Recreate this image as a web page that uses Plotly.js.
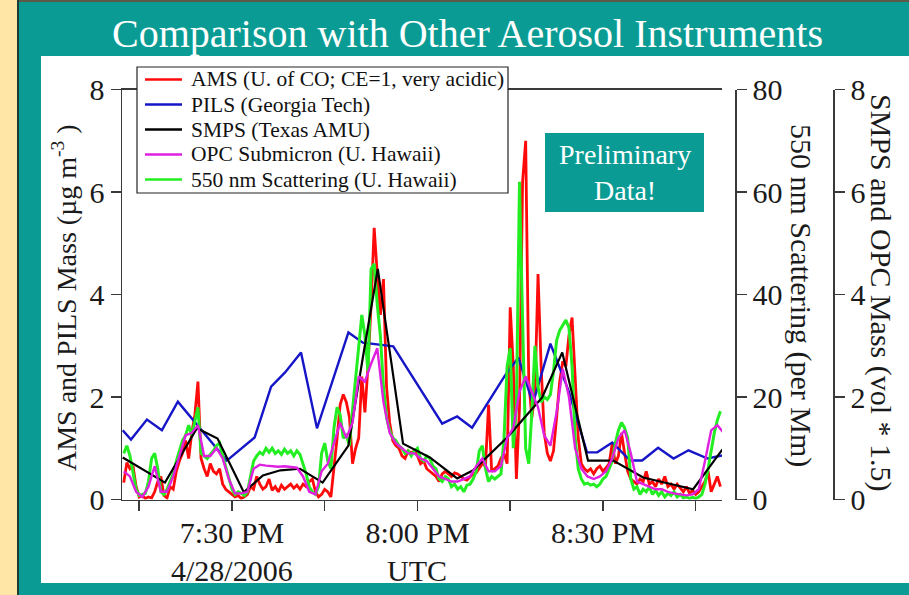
<!DOCTYPE html>
<html>
<head>
<meta charset="utf-8">
<script src="https://cdn.plot.ly/plotly-3.0.1.min.js"></script>
<style>
  html, body { margin: 0; padding: 0; background: #0A9C94; }
  #chart { width: 909px; height: 595px; }
</style>
</head>
<body>
<div id="chart"></div>
<script>
// Flight date; all instrument clocks in UTC
const flightDate = '2006-04-28';

// AMS and 550 nm scattering: 30 s records starting 19:12:30 UTC
const fastStart = '19:12:30';
const fastStepSec = 30;

// AMS mass (ug m-3), U. of CO, CE=1
const amsMass = [
  0.33, 0.72, 0.60, 0.65, 0.25, 0.05, 0.08, 0.02, 0.05, 0.03,
  0.15, 0.35, 0.45, 0.08, 0.03, 0.25, 0.20, 0.55, 0.75, 0.90,
  1.15, 0.80, 1.30, 1.65, 2.30, 0.80, 0.60, 0.45, 0.70, 0.55,
  0.50, 0.60, 0.30, 0.20, 0.15, 0.10, 0.05, 0.08, 0.02, 0.05,
  0.10, 0.25, 0.20, 0.45, 0.30, 0.20, 0.25, 0.40, 0.18, 0.25,
  0.15, 0.28, 0.20, 0.25, 0.30, 0.22, 0.28, 0.20, 0.30, 0.25,
  0.35, 0.40, 0.15, 0.05, 0.10, 0.20, 0.15, 0.05, 0.60, 1.20,
  1.85, 2.05, 1.90, 1.60, 0.70, 1.00, 1.20, 2.40, 1.70, 2.60,
  3.80, 5.30, 4.40, 3.60, 4.30, 2.20, 1.50, 1.15, 1.05, 1.00,
  0.85, 0.80, 0.95, 0.90, 0.95, 0.85, 0.70, 0.75, 0.60, 0.55,
  0.50, 0.45, 0.35, 0.50, 0.55, 0.50, 0.45, 0.52, 0.50, 0.45,
  0.40, 0.38, 0.45, 0.50, 0.52, 0.60, 0.70, 0.65, 1.85, 0.55,
  0.60, 0.65, 0.80, 0.90, 0.70, 3.75, 2.60, 0.40, 1.80, 6.20,
  7.00, 2.30, 1.60, 2.10, 4.40, 2.60, 1.30, 0.90, 0.75, 0.95,
  1.60, 2.30, 2.70, 2.60, 3.20, 3.55, 2.40, 1.20, 0.70, 0.60,
  0.55, 0.60, 0.50, 0.60, 0.65, 0.55, 0.62, 0.70, 1.10, 0.70,
  0.85, 1.30, 0.90, 0.55, 0.40, 0.35, 0.30, 0.40, 0.35, 0.55,
  0.30, 0.35, 0.25, 0.40, 0.30, 0.45, 0.25, 0.30, 0.20, 0.30,
  0.22, 0.15, 0.25, 0.12, 0.18, 0.10, 0.15, 0.25, 0.35, 0.55,
  0.15, 0.30, 0.45, 0.25
];

// 550 nm scattering (per Mm), U. Hawaii
const scattering = [
  9.0, 10.5, 8.5, 5.5, 2.0, 0.8, 1.0, 1.2, 3.5, 8.0,
  9.0, 6.0, 1.5, 1.0, 2.0, 3.5, 5.0, 7.5, 9.5, 11.5,
  12.5, 14.5, 12.5, 15.5, 18.0, 9.0, 8.5, 8.0, 8.8, 9.5,
  10.5, 11.0, 8.5, 6.5, 4.5, 2.0, 1.0, 1.5, 1.2, 0.8,
  1.5, 4.5, 7.5, 8.5, 9.2, 8.8, 10.0, 9.2, 10.0, 9.0,
  9.5, 8.8, 9.8, 9.0, 9.5, 8.5, 9.5, 8.8, 7.0, 5.0,
  2.5, 1.5, 1.0, 2.5, 9.0, 11.0, 7.5, 6.0, 14.0, 18.0,
  16.5, 12.0, 12.5, 10.5, 17.5, 24.0, 31.0, 36.0, 32.0, 25.0,
  45.0, 46.0, 38.0, 32.0, 22.0, 16.0, 13.5, 12.0, 11.5, 10.5,
  10.0, 9.0, 9.5, 8.5, 9.5, 10.0, 8.0, 7.5, 8.5, 8.0,
  6.5, 6.0, 4.0, 3.5, 4.5, 4.0, 2.5, 3.0, 2.0, 2.5,
  1.5, 2.8, 3.0, 4.0, 5.5, 9.5, 10.5, 6.0, 3.5, 4.5,
  4.0, 4.5, 5.0, 12.0, 26.0, 29.5, 10.0, 18.0, 62.0, 35.0,
  10.0, 7.0, 17.0, 30.0, 22.0, 19.0, 20.0, 19.5, 20.5, 25.0,
  31.0, 33.0, 34.0, 35.0, 33.5, 26.0, 12.0, 6.0, 4.0, 3.0,
  3.2, 2.8, 3.0, 2.5, 3.0, 4.0, 4.5, 6.0, 7.5, 11.0,
  13.5, 15.0, 14.0, 12.0, 4.0, 2.0, 2.5, 1.0, 2.0, 1.5,
  2.5, 1.0, 1.8, 0.8, 1.5, 0.5, 1.2, 0.8, 1.5, 0.5,
  1.0, 0.3, 0.5, 0.2, 0.4, 0.2, 0.5, 1.0, 3.0, 6.0,
  9.5, 13.0, 15.5, 17.2
];

// OPC submicron mass (vol * 1.5), 1 min records starting 19:12:30 UTC
const opcStart = '19:12:30';
const opcStepSec = 60;
const opcMass = [
  0.55, 0.45, 0.15, 0.05, 0.25, 0.65, 0.15, 0.15, 0.45, 0.85,
  1.25, 1.30, 1.45, 0.85, 0.85, 1.00, 0.80, 0.40, 0.12, 0.12,
  0.15, 0.60, 0.68, 0.66, 0.65, 0.64, 0.65, 0.63, 0.62, 0.45,
  0.15, 0.10, 0.55, 0.70, 1.10, 1.50, 1.20, 1.50, 2.40, 2.30,
  2.65, 2.95, 1.90, 1.30, 1.10, 1.00, 0.90, 0.90, 0.80, 0.75,
  0.60, 0.45, 0.40, 0.35, 0.35, 0.40, 0.45, 0.65, 0.80, 0.55,
  0.55, 0.65, 1.20, 1.40, 2.10, 2.40, 2.10, 1.80, 1.25, 1.05,
  1.70, 2.55, 2.00, 1.00, 0.60, 0.45, 0.40, 0.45, 0.55, 0.80,
  1.20, 1.35, 0.90, 0.35, 0.30, 0.25, 0.20, 0.20, 0.15, 0.12,
  0.10, 0.08, 0.10, 0.20, 0.75, 1.35, 1.45, 1.30
];

// PILS (Georgia Tech) sample times and mass (ug m-3)
const pilsTimes = [
  '19:12:20', '19:13:40', '19:16:15', '19:18:40', '19:21:15', '19:29:10',
  '19:33:40', '19:36:20', '19:38:35', '19:41:10', '19:43:45', '19:48:50',
  '19:51:10', '19:56:05', '20:04:00', '20:06:25', '20:08:50', '20:11:20',
  '20:14:10', '20:16:20', '20:18:40', '20:21:30', '20:24:25', '20:27:25',
  '20:29:05', '20:31:30', '20:34:25', '20:36:20', '20:38:55', '20:41:25',
  '20:43:50', '20:46:55', '20:49:15'
];
const pilsMass = [
  1.35, 1.17, 1.56, 1.35, 1.91, 0.76,
  1.21, 2.20, 2.48, 2.87, 1.39, 3.26,
  3.06, 2.99, 1.48, 1.62, 1.40, 1.89,
  2.42, 2.77, 1.87, 3.04, 2.13, 0.92,
  0.92, 1.11, 0.76, 0.76, 1.01, 0.80,
  0.96, 0.80, 0.86
];

// SMPS (Texas A&M) sample times and mass (vol * 1.5)
const smpsTimes = [
  '19:12:20', '19:19:10', '19:24:20', '19:27:40', '19:31:55', '19:35:00',
  '19:37:50', '19:41:00', '19:44:40', '19:48:50', '19:51:10', '19:53:35',
  '19:57:40', '20:02:00', '20:06:25', '20:09:00', '20:14:30', '20:20:10',
  '20:23:25', '20:27:35', '20:31:40', '20:36:30', '20:44:35', '20:49:20'
];
const smpsMass = [
  0.82, 0.33, 1.39, 1.19, 0.14, 0.47,
  0.57, 0.60, 0.33, 1.05, 2.77, 4.50,
  1.09, 0.82, 0.41, 0.57, 1.21, 1.99,
  2.87, 0.76, 0.76, 0.43, 0.20, 0.98
];

// Axis ticks
const xMajorTimes = ['19:30:00', '20:00:00', '20:30:00'];
const xMajorText = ['7:30 PM', '8:00 PM', '8:30 PM'];
const xSubTimes = ['19:30:00', '20:00:00'];
const xSubText = ['4/28/2006', 'UTC'];
const xMinorTimes = ['19:15:00', '19:45:00', '20:15:00', '20:45:00'];
const massTicks = [0, 2, 4, 6, 8];
const scatTicks = [0, 20, 40, 60, 80];

// ---- helpers ----
const stamp = t => flightDate + ' ' + t;
function regularTimes(start, stepSec, n) {
  const t0 = Date.parse(flightDate + 'T' + start + 'Z');
  const out = [];
  for (let i = 0; i < n; i++) {
    out.push(new Date(t0 + i * stepSec * 1000).toISOString().replace('T', ' ').slice(0, 19));
  }
  return out;
}

const W = 909, H = 595;
const px = x => x / W;          // horizontal pixel -> paper
const py = y => (H - y) / H;    // vertical pixel (from top) -> paper

const SERIF = 'Liberation Serif, Times New Roman, serif';
const AX = '#3a3a3a';
const INK = '#1a1a1a';

const fastTimes = regularTimes(fastStart, fastStepSec, amsMass.length);
const opcTimes = regularTimes(opcStart, opcStepSec, opcMass.length);

const traces = [
  { name: 'AMS (U. of CO; CE=1, very acidic)', x: fastTimes, y: amsMass,
    type: 'scatter', mode: 'lines', line: { color: '#ff0a0a', width: 2.8 }, yaxis: 'y' },
  { name: 'PILS (Georgia Tech)', x: pilsTimes.map(stamp), y: pilsMass,
    type: 'scatter', mode: 'lines', line: { color: '#1616c8', width: 2.4 }, yaxis: 'y' },
  { name: 'SMPS (Texas AMU)', x: smpsTimes.map(stamp), y: smpsMass,
    type: 'scatter', mode: 'lines', line: { color: '#000000', width: 2.2 }, yaxis: 'y3' },
  { name: 'OPC Submicron (U. Hawaii)', x: opcTimes, y: opcMass,
    type: 'scatter', mode: 'lines', line: { color: '#e020e0', width: 2.4 }, yaxis: 'y3' },
  { name: '550 nm Scattering (U. Hawaii)', x: fastTimes, y: scattering,
    type: 'scatter', mode: 'lines', line: { color: '#22ee22', width: 3 }, yaxis: 'y2' }
];

const yDomain = [py(499.5), py(89.5)];
const tickFont = { family: SERIF, size: 30, color: INK };
const xFont = { family: SERIF, size: 30, color: INK };
const commonY = {
  ticks: 'outside', ticklen: 10, tickwidth: 1.5, tickcolor: AX,
  showline: true, linecolor: AX, linewidth: 1.5,
  showgrid: false, zeroline: false, tickfont: tickFont, fixedrange: true
};

// Framed key in the upper left of the plot, one row per trace
const key = { left: 137, right: 508, top: 67, bottom: 193, row0: 79.5, rowStep: 25,
              lineX0: 145, lineX1: 182, textX: 189 };
const keyShapes = [
  { type: 'rect', xref: 'paper', yref: 'paper',
    x0: px(key.left), x1: px(key.right), y0: py(key.bottom), y1: py(key.top),
    fillcolor: '#ffffff', line: { color: '#222', width: 1.2 }, layer: 'above' }
];
const keyNotes = [];
traces.forEach((t, i) => {
  const yy = py(key.row0 + i * key.rowStep);
  keyShapes.push({ type: 'line', xref: 'paper', yref: 'paper',
    x0: px(key.lineX0), x1: px(key.lineX1), y0: yy, y1: yy,
    line: { color: t.line.color, width: 2.4 }, layer: 'above' });
  keyNotes.push({ text: t.name, xref: 'paper', yref: 'paper', x: px(key.textX), y: yy,
    xanchor: 'left', yanchor: 'middle', showarrow: false,
    font: { family: SERIF, size: 21.5, color: '#111' } });
});

// Second line under the time labels (date and time zone)
const subNotes = xSubTimes.map((t, i) => ({
  text: xSubText[i], xref: 'x', yref: 'paper', x: stamp(t), y: py(570),
  xanchor: 'center', yanchor: 'middle', showarrow: false, font: xFont
}));

const layout = {
  width: W, height: H,
  margin: { l: 0, r: 0, t: 0, b: 0 },
  paper_bgcolor: '#0A9C94',
  plot_bgcolor: 'rgba(0,0,0,0)',
  showlegend: false,
  xaxis: {
    type: 'date', domain: [px(122), px(722)],
    range: [stamp('19:12:13'), stamp('20:49:15')],
    tickmode: 'array', tickvals: xMajorTimes.map(stamp), ticktext: xMajorText,
    ticks: 'outside', ticklen: 10, tickwidth: 1.5, tickcolor: AX,
    ticklabelstandoff: -4,
    minor: { tickmode: 'array', tickvals: xMinorTimes.map(stamp),
             ticks: 'outside', ticklen: 10, tickwidth: 1.5, tickcolor: AX, showgrid: false },
    showline: true, linecolor: AX, linewidth: 1.5, mirror: true,
    showgrid: false, zeroline: false,
    tickfont: xFont, fixedrange: true
  },
  yaxis: Object.assign({}, commonY, {
    domain: yDomain, range: [0, 8], tickmode: 'array', tickvals: massTicks
  }),
  yaxis2: Object.assign({}, commonY, {
    overlaying: 'y', side: 'right', anchor: 'free', position: px(735),
    range: [0, 80], tickmode: 'array', tickvals: scatTicks
  }),
  yaxis3: Object.assign({}, commonY, {
    overlaying: 'y', side: 'right', anchor: 'free', position: px(833),
    range: [0, 8], tickmode: 'array', tickvals: massTicks
  }),
  shapes: [
    { type: 'rect', xref: 'paper', yref: 'paper', x0: 0, x1: px(17), y0: 0, y1: 1,
      fillcolor: '#FFE6A6', line: { width: 0 }, layer: 'below' },
    { type: 'rect', xref: 'paper', yref: 'paper', x0: px(17), x1: px(19), y0: 0, y1: 1,
      fillcolor: '#1d3d35', line: { width: 0 }, layer: 'below' },
    { type: 'rect', xref: 'paper', yref: 'paper', x0: px(19), x1: 1, y0: py(2), y1: 1,
      fillcolor: '#5c5a45', line: { width: 0 }, layer: 'below' },
    { type: 'rect', xref: 'paper', yref: 'paper', x0: px(41), x1: 1, y0: py(583), y1: py(56),
      fillcolor: '#ffffff', line: { width: 0 }, layer: 'below' },
    { type: 'rect', xref: 'paper', yref: 'paper', x0: px(545), x1: px(704), y0: py(212), y1: py(133),
      fillcolor: '#0A9C94', line: { width: 0 }, layer: 'above' }
  ].concat(keyShapes),
  annotations: [
    { text: 'Comparison with Other Aerosol Instruments', xref: 'paper', yref: 'paper',
      x: px(467), y: py(33), xanchor: 'center', yanchor: 'middle', showarrow: false,
      font: { family: SERIF, size: 40, color: '#ffffff' } },
    { text: 'Preliminary<br>Data!', xref: 'paper', yref: 'paper',
      x: px(624.5), y: py(173), xanchor: 'center', yanchor: 'middle', showarrow: false,
      font: { family: SERIF, size: 28, color: '#ffffff' } },
    { text: 'AMS and PILS Mass (µg m<sup>-3</sup> )', xref: 'paper', yref: 'paper',
      x: px(64), y: py(298), xanchor: 'center', yanchor: 'middle', showarrow: false, textangle: -90,
      font: { family: SERIF, size: 28, color: INK } },
    { text: '550 nm Scattering (per Mm)', xref: 'paper', yref: 'paper',
      x: px(801), y: py(295), xanchor: 'center', yanchor: 'middle', showarrow: false, textangle: 90,
      font: { family: SERIF, size: 30, color: INK } },
    { text: 'SMPS and OPC Mass (vol * 1.5)', xref: 'paper', yref: 'paper',
      x: px(881), y: py(293), xanchor: 'center', yanchor: 'middle', showarrow: false, textangle: 90,
      font: { family: SERIF, size: 30, color: INK } }
  ].concat(keyNotes, subNotes)
};

Plotly.newPlot('chart', traces, layout, { displayModeBar: false, staticPlot: true });
</script>
</body>
</html>
